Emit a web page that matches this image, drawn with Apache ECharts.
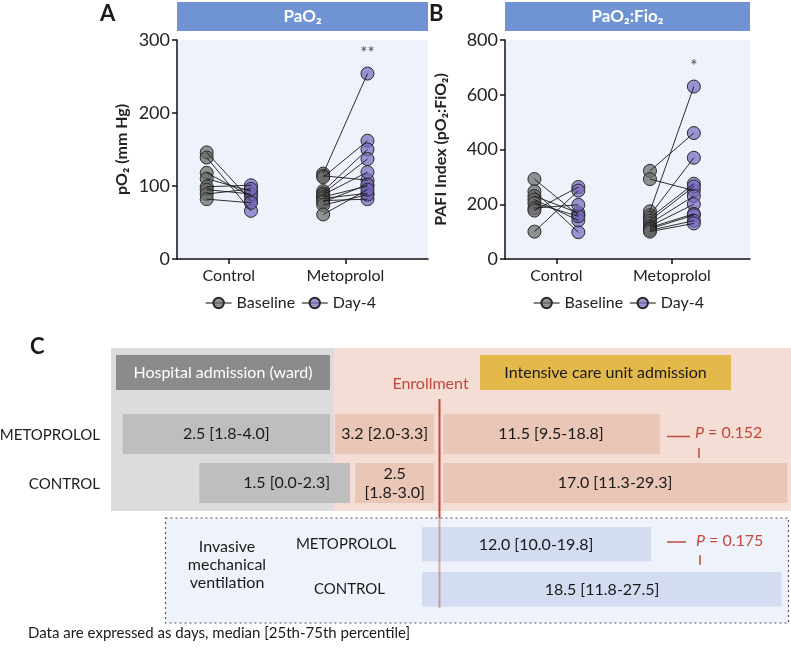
<!DOCTYPE html>
<html>
<head>
<meta charset="utf-8">
<script src="https://cdn.jsdelivr.net/npm/echarts@6/dist/echarts.min.js"></script>
<style>
html,body{margin:0;padding:0;background:#fff;}
#chart{width:791px;height:652px;}
</style>
</head>
<body>
<div id="chart"></div>
<script>
// ---------- DATA ----------
const groups = ['Control', 'Metoprolol'];
const timepoints = ['Baseline', 'Day-4'];

// Panel A: PaO2 (mm Hg), one value per patient
const ctrlA_base = [146, 139, 118, 110, 99, 95, 89, 82];
const ctrlA_day4 = [80, 66, 86, 93, 101, 89, 96, 77];
const metoA_base = [117, 114, 112, 93, 90, 88, 85, 83, 80, 78, 74, 61];
const metoA_day4 = [254, 108, 162, 150, 137, 119, 100, 90, 82, 102, 88, 95];

// Panel B: PaO2:FiO2
const ctrlB_base = [292, 247, 230, 217, 204, 186, 177, 100];
const ctrlB_day4 = [160, 98, 168, 141, 156, 198, 263, 250];
const metoB_base = [322, 292, 174, 160, 150, 140, 130, 120, 115, 110, 105, 100];
const metoB_day4 = [460, 250, 630, 370, 275, 265, 230, 200, 165, 160, 140, 130];

const yTicksA = [0, 100, 200, 300];
const yTicksB = [0, 200, 400, 600, 800];
const sigA = '**';
const sigB = '*';

// Panel C: days, median [25th-75th percentile]
const rowGroups = ['METOPROLOL', 'CONTROL'];
const wardMed = [2.5, 1.5], wardQ1 = [1.8, 0.0], wardQ3 = [4.0, 2.3];
const preMed = [3.2, 2.5], preQ1 = [2.0, 1.8], preQ3 = [3.3, 3.0];
const icuMed = [11.5, 17.0], icuQ1 = [9.5, 11.3], icuQ3 = [18.8, 29.3];
const mvMed = [12.0, 18.5], mvQ1 = [10.0, 11.8], mvQ3 = [19.8, 27.5];
const pIcu = 0.152;
const pMv = 0.175;

// ---------- LAYOUT / STYLE ----------
const FONT = 'Lato, "Noto Sans", sans-serif';
const OFF = 0.19;
const XMIN = 0.555;
const RED = '#c4483a';

function fmt(m, a, b, split) {
  const f = v => v.toFixed(1);
  return f(m) + (split ? '\n' : ' ') + '[' + f(a) + '-' + f(b) + ']';
}

function pts(vals, x) { return vals.map(v => [x, v]); }
function pairs(b, d, gi) {
  const xb = gi + 1 - OFF, xd = gi + 1 + OFF;
  return b.map((v, i) => ({ coords: [[xb, v], [xd, d[i]]] }));
}

const baseStyle = { color: 'rgba(105,105,105,0.72)', borderColor: '#2a2a2a', borderWidth: 1 };
const dayStyle = { color: 'rgba(118,104,190,0.7)', borderColor: '#2a2a2a', borderWidth: 1 };

function panelSeries(idx, cb, cd, mb, md, sig) {
  const s = [];
  s.push({
    type: 'line', name: 'Baseline', xAxisIndex: idx, yAxisIndex: idx,
    data: pts(cb, 1 - OFF).concat(pts(mb, 2 - OFF)),
    symbol: 'circle', symbolSize: 13, showAllSymbol: true,
    lineStyle: { opacity: 0, width: 0 }, itemStyle: baseStyle, z: 2, silent: true, animation: false
  });
  s.push({
    type: 'line', name: 'Day-4', xAxisIndex: idx, yAxisIndex: idx,
    data: pts(cd, 1 + OFF).concat(pts(md, 2 + OFF)),
    symbol: 'circle', symbolSize: 13, showAllSymbol: true,
    lineStyle: { opacity: 0, width: 0 }, itemStyle: dayStyle, z: 2, silent: true, animation: false
  });
  s.push({
    type: 'lines', coordinateSystem: 'cartesian2d', xAxisIndex: idx, yAxisIndex: idx,
    data: pairs(cb, cd, 0).concat(pairs(mb, md, 1)),
    lineStyle: { color: '#1a1a1a', width: 1, opacity: 0.9 }, z: 3, silent: true, animation: false
  });
  s.push({
    type: 'scatter', xAxisIndex: idx, yAxisIndex: idx,
    data: [[2 + OFF, Math.max(...md)]], symbolSize: 13,
    itemStyle: { color: 'rgba(0,0,0,0)' }, silent: true, animation: false, z: 6,
    label: { show: true, position: 'top', distance: 5, formatter: sig, fontSize: 17, color: '#222', fontFamily: FONT }
  });
  return s;
}

function xAxis(idx, max) {
  return {
    type: 'value', gridIndex: idx, min: XMIN, max: max,
    splitLine: { show: false },
    axisLine: { show: true, onZero: false, lineStyle: { color: '#111', width: 1.5 } },
    axisTick: { show: true, customValues: [1, 2], length: 5, lineStyle: { color: '#111', width: 1.5 } },
    axisLabel: { customValues: [1, 2], formatter: v => groups[Math.round(v) - 1], fontSize: 16, color: '#222', fontFamily: FONT, margin: 9 }
  };
}
function yAxis(idx, max, interval, name, gap) {
  return {
    type: 'value', gridIndex: idx, min: 0, max: max, interval: interval,
    splitLine: { show: false },
    axisLine: { show: true, lineStyle: { color: '#111', width: 1.5 } },
    axisTick: { show: true, length: 5, lineStyle: { color: '#111', width: 1.5 } },
    axisLabel: { fontSize: 18, color: '#222', fontFamily: FONT, margin: 7 },
    name: name, nameLocation: 'middle', nameGap: gap,
    nameTextStyle: { fontSize: 16, fontWeight: 'bold', color: '#222', fontFamily: FONT }
  };
}

// ---------- PANEL C GRAPHICS ----------
const G = [];
function rect(x, y, w, h, fill, extra) {
  G.push(Object.assign({ type: 'rect', shape: { x: x, y: y, width: w, height: h }, style: { fill: fill }, silent: true }, extra || {}));
}
function txt(s, x, y, o) {
  o = o || {};
  G.push({
    type: 'text', silent: true, z: o.z || 10,
    style: Object.assign({
      text: s, x: x, y: y, textAlign: o.align || 'center', textVerticalAlign: 'middle', verticalAlign: 'middle',
      fill: o.color || '#1a1a1a', fontSize: o.size || 16, fontWeight: o.weight || 'normal', fontFamily: FONT,
      lineHeight: o.lh || 20
    }, o.rich ? { rich: o.rich } : {})
  });
}
function line(x1, y1, x2, y2, color, w, extra) {
  G.push(Object.assign({ type: 'line', silent: true, z: 5, shape: { x1: x1, y1: y1, x2: x2, y2: y2 }, style: { stroke: color, lineWidth: w } }, extra || {}));
}

// panel A/B headers and letters
rect(177, 2, 251, 29, '#6f93d3');
txt('PaO₂', 302.5, 17, { color: '#fff', weight: 'bold', size: 17 });
rect(505, 2, 245, 29, '#6f93d3');
txt('PaO₂:Fio₂', 627.5, 17, { color: '#fff', weight: 'bold', size: 17 });
txt('A', 100, 14, { weight: 'bold', size: 22, align: 'left' });
txt('B', 429, 14, { weight: 'bold', size: 22, align: 'left' });

// Panel C
txt('C', 30, 347, { weight: 'bold', size: 22, align: 'left' });
rect(111, 348, 223, 163, '#dcdcdc');
rect(334, 348, 457, 163, '#f3ddd4');
rect(116, 355, 214, 35, '#8b8b8b');
txt('Hospital admission (ward)', 223, 372.5, { color: '#fff' });
rect(480, 355, 251, 35, '#e4b94b');
txt('Intensive care unit admission', 605.5, 372.5);
txt('Enrollment', 430.5, 384, { color: RED });

const rowY = [414, 463];
const rowH = 40;
const wardX = [[122.7, 330], [199.3, 350]];
const preX = [[335, 434.3], [355, 434.3]];
const icuX = [[443.3, 660], [443.3, 787.3]];
for (let i = 0; i < 2; i++) {
  const y = rowY[i], cy = y + rowH / 2;
  txt(rowGroups[i], 100, cy + 1, { align: 'right', size: 15 });
  rect(wardX[i][0], y, wardX[i][1] - wardX[i][0], rowH, '#bebebe');
  txt(fmt(wardMed[i], wardQ1[i], wardQ3[i]), (wardX[i][0] + wardX[i][1]) / 2 + (i ? 12 : 0), cy);
  rect(preX[i][0], y, preX[i][1] - preX[i][0], rowH, '#eac6b6');
  txt(fmt(preMed[i], preQ1[i], preQ3[i], i === 1), (preX[i][0] + preX[i][1]) / 2, cy, { lh: 19 });
  rect(icuX[i][0], y, icuX[i][1] - icuX[i][0], rowH, '#eac6b6');
  txt(fmt(icuMed[i], icuQ1[i], icuQ3[i]), i ? 615 : 551, cy);
}
// P value for ICU
line(667, 436.5, 690, 436.5, RED, 1.5);
line(699, 448, 699, 458, RED, 1.5);
txt('{i|P} = ' + pIcu.toFixed(3), 695, 433, { align: 'left', color: RED, rich: { i: { fontStyle: 'italic', fontFamily: FONT, fontSize: 16, fill: RED, color: RED } } });

// MV box
rect(165.5, 518, 623, 105, '#eef2fb', { style: { fill: '#eef2fb', stroke: '#555', lineWidth: 1.2, lineDash: [2, 3] } });
txt('Invasive\nmechanical\nventilation', 227, 565, { lh: 18 });
const mvY = [527, 572];
const mvX = [[422, 651], [422, 781.6]];
const mvLabelX = [346, 349.5];
for (let i = 0; i < 2; i++) {
  rect(mvX[i][0], mvY[i], mvX[i][1] - mvX[i][0], 34.5, '#d3dcf1', { z: 2 });
  txt(rowGroups[i], mvLabelX[i], mvY[i] + 17, { size: 15 });
  txt(fmt(mvMed[i], mvQ1[i], mvQ3[i]), i ? 602 : 536, mvY[i] + 18);
}
line(667, 542, 686, 542, RED, 1.5);
line(700, 555, 700, 565, RED, 1.5);
txt('{i|P} = ' + pMv.toFixed(3), 696, 541, { align: 'left', color: RED, rich: { i: { fontStyle: 'italic', fontFamily: FONT, fontSize: 16, fill: RED, color: RED } } });

// Enrollment line
line(439.5, 399, 439.5, 518, RED, 2, { z: 4 });
line(439.5, 518, 439.5, 608, 'rgba(196,72,58,0.45)', 2, { z: 4 });

txt('Data are expressed as days, median [25th-75th percentile]', 28, 633, { align: 'left', size: 15 });

// ---------- CHART ----------
const chart = echarts.init(document.getElementById('chart'), null, { renderer: 'canvas' });
const legendCommon = {
  top: 290, itemWidth: 26, itemHeight: 13, itemGap: 6, selectedMode: false,
  data: timepoints,
  textStyle: { fontSize: 16, color: '#222', fontFamily: FONT },
  lineStyle: { color: '#333', width: 1.2, opacity: 1 }
};
chart.setOption({
  animation: false,
  backgroundColor: '#fff',
  grid: [
    { left: 177, top: 40, width: 251, height: 219, show: true, backgroundColor: '#eef2fa', borderWidth: 0 },
    { left: 505, top: 40, width: 245, height: 219, show: true, backgroundColor: '#eef2fa', borderWidth: 0 }
  ],
  xAxis: [xAxis(0, XMIN + 251 / 116.5), xAxis(1, XMIN + 245 / 115.5)],
  yAxis: [
    yAxis(0, yTicksA[yTicksA.length - 1], yTicksA[1] - yTicksA[0], 'pO₂ (mm Hg)', 47),
    yAxis(1, yTicksB[yTicksB.length - 1], yTicksB[1] - yTicksB[0], 'PAFI Index (pO₂:FiO₂)', 56)
  ],
  legend: [
    Object.assign({ left: 200 }, legendCommon),
    Object.assign({ left: 528 }, legendCommon)
  ],
  series: panelSeries(0, ctrlA_base, ctrlA_day4, metoA_base, metoA_day4, sigA)
    .concat(panelSeries(1, ctrlB_base, ctrlB_day4, metoB_base, metoB_day4, sigB)),
  graphic: { elements: G }
});
</script>
</body>
</html>
